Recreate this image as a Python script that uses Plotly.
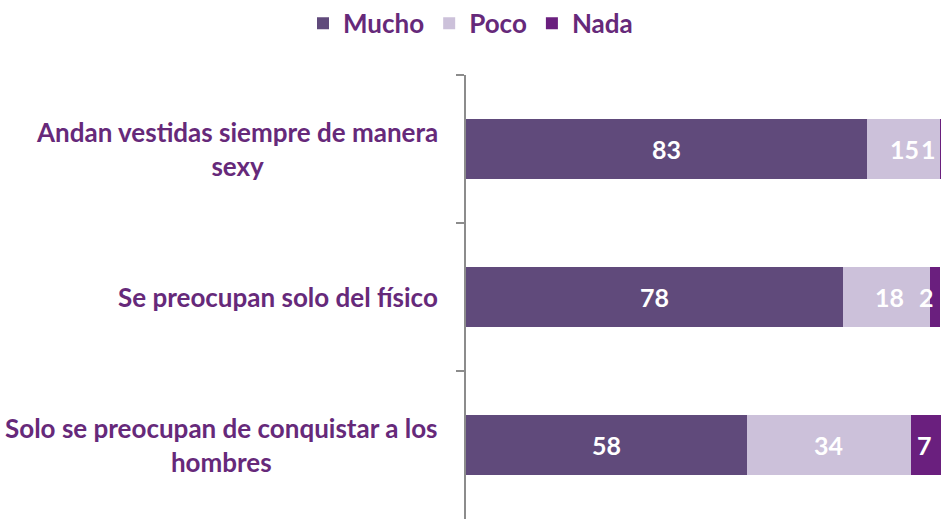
import plotly.graph_objects as go

categories = [
    "Andan vestidas siempre de manera<br>sexy",
    "Se preocupan solo del físico",
    "Solo se preocupan de conquistar a los<br>hombres",
]
series_names = ["Mucho", "Poco", "Nada"]
mucho = [83, 78, 58]
poco = [15, 18, 34]
nada = [1, 2, 7]

colors = {"Mucho": "#604A7B", "Poco": "#CCC1DA", "Nada": "#6A1F7E"}
text_color = "#66297A"
FONT = "Lato"
X_MAX = 98.2

# small pixel nudges applied to value labels that Excel shifted (series, row) -> px
label_shift = {("Poco", 0): 1, ("Nada", 0): -13, ("Poco", 1): 3, ("Nada", 1): -9, ("Nada", 2): -3}

values = {"Mucho": mucho, "Poco": poco, "Nada": nada}

fig = go.Figure()
for name in series_names:
    fig.add_trace(go.Bar(
        name=name, y=categories, x=values[name], orientation="h",
        marker=dict(color=colors[name], line=dict(width=0)),
        hoverinfo="skip",
    ))

annotations = []
for i, cat in enumerate(categories):
    cum = 0
    for name in series_names:
        v = values[name][i]
        annotations.append(dict(
            x=min(cum + v / 2, X_MAX), y=cat, xref="x", yref="y", text=str(v),
            showarrow=False, xshift=label_shift.get((name, i), 0),
            font=dict(family=FONT, size=25, color="white", weight="bold"),
        ))
        cum += v
    annotations.append(dict(
        x=0, y=cat, xref="paper", yref="y", text=cat, showarrow=False,
        xanchor="right", align="center", xshift=-26,
        font=dict(family=FONT, size=26, color=text_color, weight="bold"),
    ))

fig.update_layout(
    width=941, height=519,
    margin=dict(l=466, r=0, t=75, b=0),
    barmode="stack", bargap=0.6,
    plot_bgcolor="white", paper_bgcolor="white",
    showlegend=True,
    legend=dict(
        orientation="h", xref="container", yref="container", traceorder="normal",
        x=0.5, xanchor="center", y=0.955, yanchor="middle",
        font=dict(family=FONT, size=26, color=text_color, weight="bold"),
        itemclick=False, itemdoubleclick=False,
    ),
    annotations=annotations,
)
fig.update_xaxes(range=[0, X_MAX], visible=False, showgrid=False, zeroline=False)
fig.update_yaxes(
    categoryorder="array", categoryarray=categories, autorange="reversed",
    showticklabels=False, showline=True, linecolor="#8C8C8C", linewidth=1.5,
    ticks="outside", ticklen=8, tickcolor="#8C8C8C", tickwidth=1.5,
    tickson="boundaries", showgrid=False, zeroline=False,
)

fig.write_html(
    "out.html",
    config={"displayModeBar": False},
    post_script="document.body.style.margin='0';document.body.style.overflow='hidden';",
)
